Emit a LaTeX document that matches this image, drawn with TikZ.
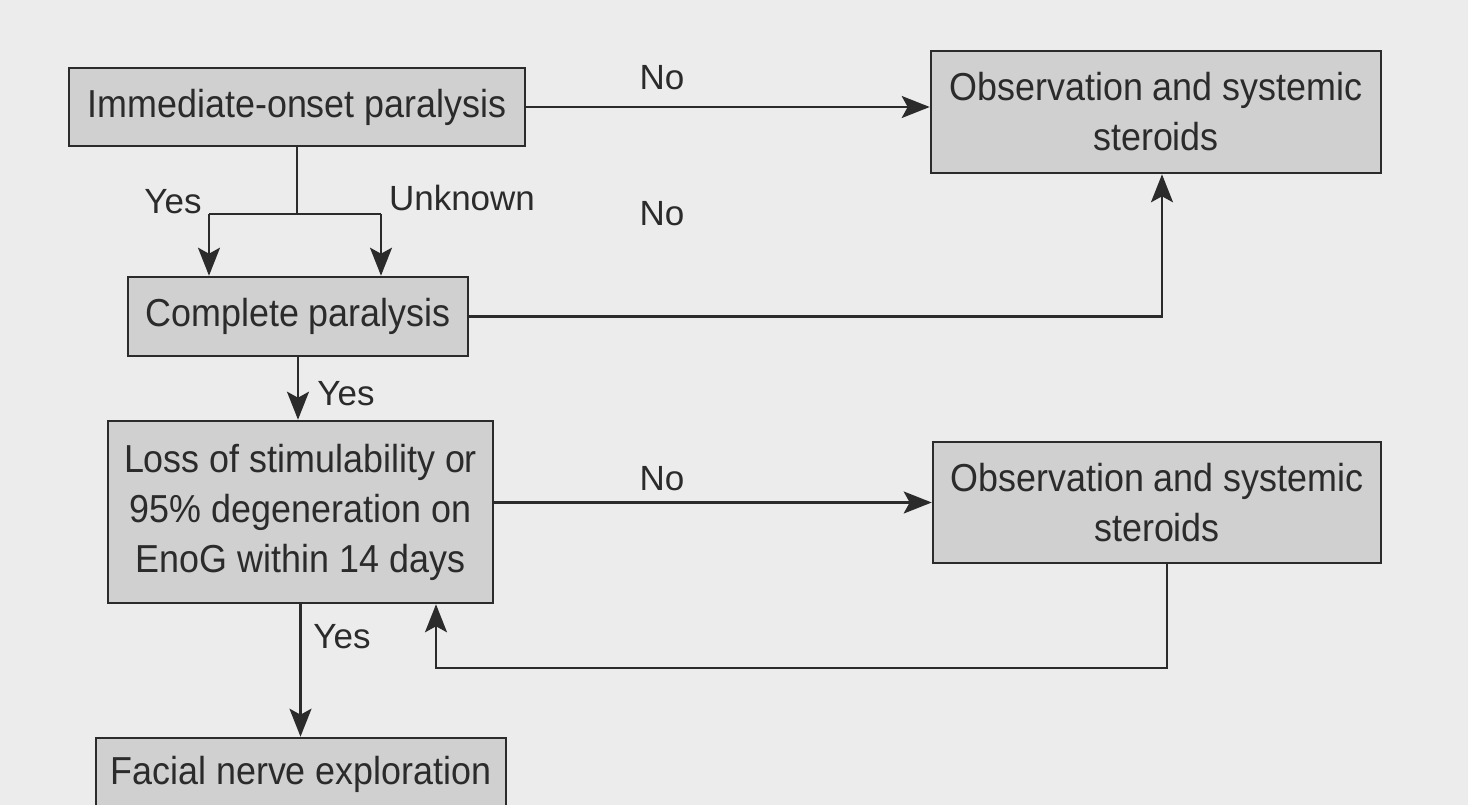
\documentclass[tikz,border=0pt]{standalone}
\usepackage{fontspec}
\setmainfont{Liberation Sans}
\newfontfamily\boxfont[FakeStretch=0.92]{Liberation Sans}
\usetikzlibrary{arrows.meta}
\definecolor{pagebg}{HTML}{ECECEC}
\definecolor{boxfill}{HTML}{D0D0D0}
\definecolor{ink}{HTML}{2B2B2B}
\begin{document}
\begin{tikzpicture}[x=1pt,y=-1pt,
  box/.style={draw=ink, line width=2.6pt, fill=boxfill, text=ink, align=center, inner sep=0pt, font=\boxfont\fontsize{39}{50}\selectfont},
  lab/.style={text=ink, font=\fontsize{35}{42}\selectfont, inner sep=0pt},
  conn/.style={draw=ink, line width=2.2pt},
  arr/.style={conn, -{Stealth[length=28pt,width=22pt,inset=6pt]}}]
\fill[pagebg] (0,0) rectangle (1468,805);
\useasboundingbox (0,0) rectangle (1468,805);
\clip (0,0) rectangle (1468,805);

\node[box, minimum width=456pt, minimum height=78pt] (A) at (297,107) {Immediate-onset paralysis};
\node[box, minimum width=340pt, minimum height=79pt] (B) at (298,316.5) {Complete paralysis};
\node[box, minimum width=385pt, minimum height=182pt] (C) at (300.5,512) {Loss of stimulability or\\95\% degeneration on\\EnoG within 14 days};
\node[box, minimum width=410pt, minimum height=72pt] (D) at (301,774) {Facial nerve exploration};
\node[box, minimum width=450pt, minimum height=122pt] (E) at (1156,112) {Observation and systemic\\steroids};
\node[box, minimum width=448pt, minimum height=121pt] (F) at (1157,502.5) {Observation and systemic\\steroids};

\node[lab] (no1) at (662,78) {No};
\node[lab] (yes1) at (173,202) {Yes};
\node[lab] (unk) at (462,198) {Unknown};
\node[lab] (no2) at (662,214) {No};
\node[lab] (yes2) at (346,394) {Yes};
\node[lab] (no3) at (662,479) {No};
\node[lab] (yes3) at (342,637) {Yes};

\coordinate (split) at (297,214);
\coordinate (yl) at (209,214);
\coordinate (yr) at (381,214);
\coordinate (loop) at (436,668);

\draw[arr] (A.east) -- (A.east -| E.west);
\draw[conn] (A.south) -- (split);
\draw[conn] (yl) -- (yr);
\draw[arr] (yl) -- (yl |- B.north);
\draw[arr] (yr) -- (yr |- B.north);
\draw[arr] (B.east) -| ([xshift=6pt]E.south);
\draw[arr] (B.south) -- (B.south |- C.north);
\draw[arr] (C.east |- F.west) -- (F.west);
\draw[arr] ([xshift=10pt]F.south) |- (loop) -- (loop |- C.south);
\draw[arr] (C.south) -- (C.south |- D.north);
\end{tikzpicture}
\end{document}
